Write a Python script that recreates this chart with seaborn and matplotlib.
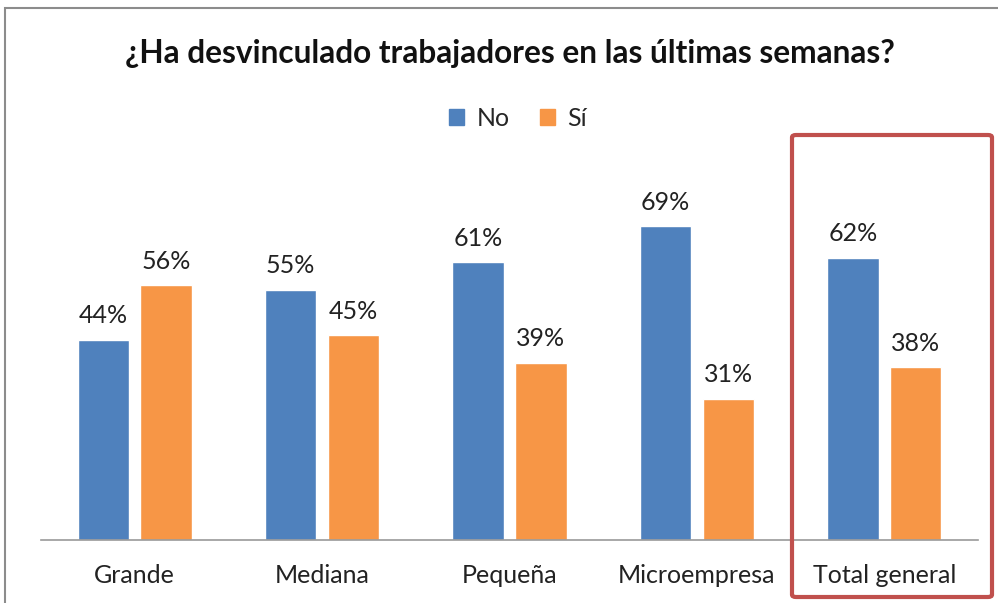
import matplotlib
matplotlib.use("Agg")
import matplotlib.pyplot as plt
import matplotlib.patches as mpatches
import seaborn as sns
import pandas as pd

categories = ["Grande", "Mediana", "Pequeña", "Microempresa", "Total general"]
no_values = [44, 55, 61, 69, 62]
si_values = [56, 45, 39, 31, 38]
series_names = ["No", "Sí"]
title = "¿Ha desvinculado trabajadores en las últimas semanas?"

df = pd.DataFrame({
    "Categoría": categories * 2,
    "Respuesta": [series_names[0]] * len(categories) + [series_names[1]] * len(categories),
    "Valor": no_values + si_values,
})

sns.set_theme(style="white")
plt.rcParams["font.family"] = ["Lato", "DejaVu Sans"]

W, H = 998, 603
fig = plt.figure(figsize=(W / 100, H / 100), dpi=100)
ax = fig.add_axes([41 / W, 63 / H, 937 / W, 364 / H])

palette = {"No": "#4F81BD", "Sí": "#F79646"}
sns.barplot(data=df, x="Categoría", y="Valor", hue="Respuesta", palette=palette,
            width=0.67, gap=0.18, saturation=1, ax=ax, legend=False)

ax.set_ylim(0, 80)
ax.set_xlim(-0.5, len(categories) - 0.5)
for c in ax.containers:
    ax.bar_label(c, labels=[f"{v:.0f}%" for v in c.datavalues], padding=9,
                 fontsize=18, color="#222222")

for s in ["top", "right", "left"]:
    ax.spines[s].set_visible(False)
ax.spines["bottom"].set_color("#9a9a9a")
ax.spines["bottom"].set_linewidth(1.2)
ax.set_yticks([])
ax.set_xlabel("")
ax.set_ylabel("")
ax.tick_params(axis="x", length=0, pad=17, labelsize=18, labelcolor="#222222")

fig.text(510 / W, 1 - 54 / H, title, ha="center", va="center", fontsize=22.8,
         fontweight="bold", color="#111111")

handles = [mpatches.Patch(color=palette[n], label=n) for n in series_names]
fig.legend(handles=handles, loc="center", bbox_to_anchor=(518 / W, 1 - 118 / H),
           ncol=2, frameon=False, fontsize=18, handlelength=0.6, handleheight=0.6,
           handletextpad=0.5, columnspacing=1.2)

# chart frame
fig.patches.append(mpatches.Rectangle((5 / W, -0.05), 1.2, 1 - 8 / H + 0.05,
                                      transform=fig.transFigure, fill=False,
                                      edgecolor="#8c8c8c", linewidth=1.5))
# highlight box
fig.patches.append(mpatches.FancyBboxPatch((792 / W, 1 - 597 / H), 200 / W, 462 / H,
                                           boxstyle="round,pad=0,rounding_size=0.004",
                                           transform=fig.transFigure, fill=False,
                                           edgecolor="#C0504D", linewidth=3))

fig.savefig("out.png", dpi=100)
